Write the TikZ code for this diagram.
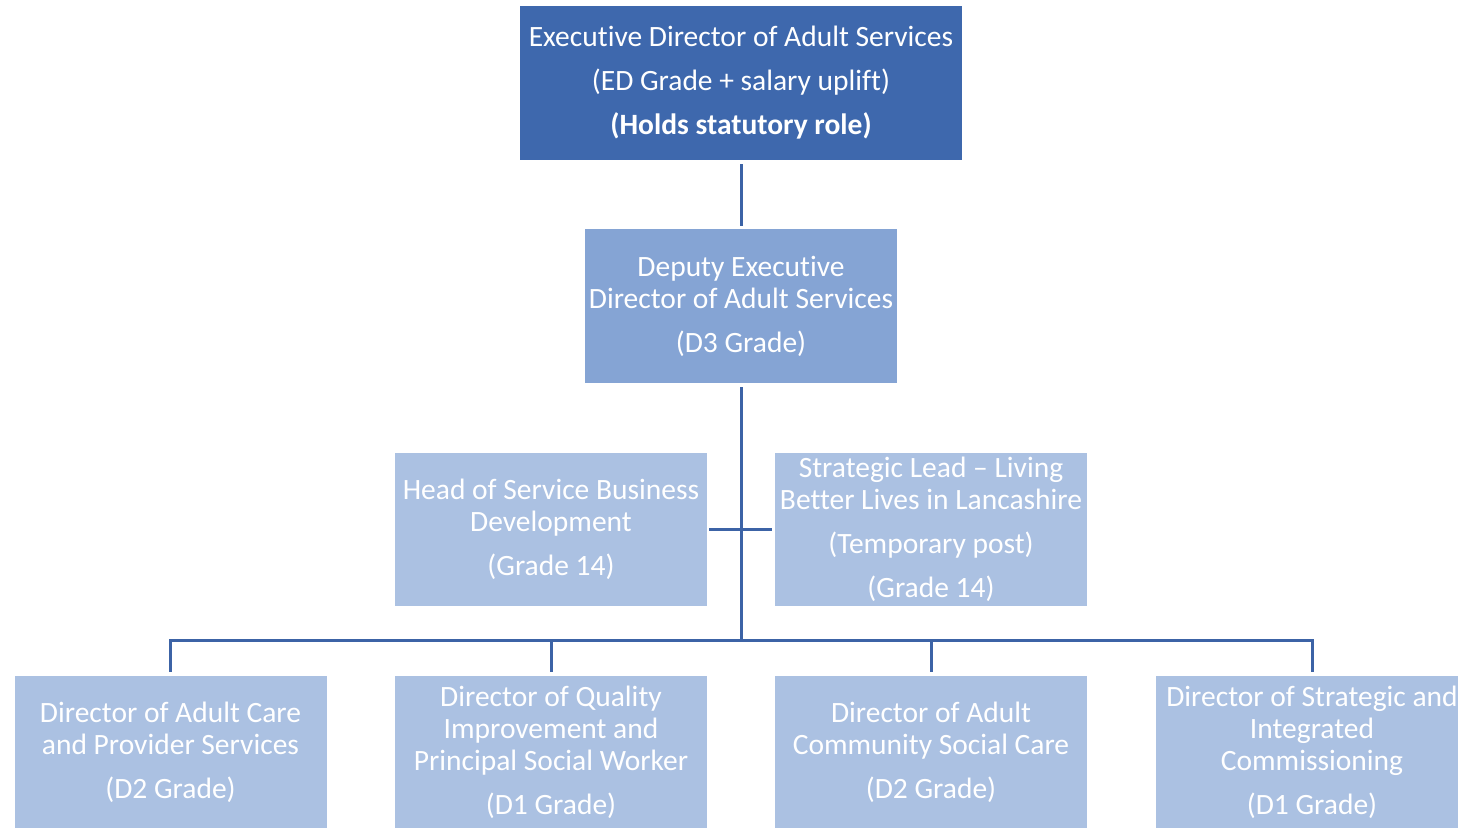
\documentclass[tikz,border=0pt]{standalone}
\usepackage{fontspec}
\setmainfont[Ligatures=NoCommon]{Carlito}
\definecolor{darkpost}{HTML}{3E68AD}
\definecolor{midpost}{HTML}{85A4D4}
\definecolor{lightpost}{HTML}{ABC1E2}
\definecolor{linkblue}{HTML}{3C63A6}
\begin{document}
\begin{tikzpicture}[x=1pt,y=-1pt]
    \tikzset{
        post/.style={rectangle, inner sep=0pt, minimum width=312pt, minimum height=154pt,
            text=white, align=center, font=\fontsize{29.5}{32}\selectfont},
        conn/.style={draw=linkblue, line width=3pt}
    };
    \useasboundingbox (0,0) rectangle (1458,827);
    % top of the chart
    \node[post, fill=darkpost, minimum width=442pt] (ed) at (741,83)
        {Executive Director of Adult Services\\[12pt](ED Grade + salary uplift)\\[12pt]\textbf{(Holds statutory role)}};
    \node[post, fill=midpost] (deputy) at (741,306)
        {Deputy Executive\\Director of Adult Services\\[12pt](D3 Grade)};
    % side posts
    \node[post, fill=lightpost, minimum height=153pt] (headsbd) at (551,529.5)
        {Head of Service Business\\Development\\[12pt](Grade 14)};
    \node[post, fill=lightpost, minimum height=153pt] (stratlead) at (931,529.5)
        {Strategic Lead -- Living\\Better Lives in Lancashire\\[12pt](Temporary post)\\[12pt](Grade 14)};
    % directors
    \node[post, fill=lightpost, minimum height=152pt] (dacps) at (170.5,752)
        {Director of Adult Care\\and Provider Services\\[12pt](D2 Grade)};
    \node[post, fill=lightpost, minimum height=152pt] (dqi) at (551,752)
        {Director of Quality\\Improvement and\\Principal Social Worker\\[12pt](D1 Grade)};
    \node[post, fill=lightpost, minimum height=152pt] (dacsc) at (931,752)
        {Director of Adult\\Community Social Care\\[12pt](D2 Grade)};
    \node[post, fill=lightpost, minimum height=152pt] (dsic) at (1312,752)
        {Director of Strategic and\\Integrated\\Commissioning\\[12pt](D1 Grade)};
    \coordinate (hub) at (741,640);
    \draw[conn, shorten <=4pt, shorten >=3pt] (ed) -- (deputy);
    \draw[conn, shorten <=4pt] (deputy) -- (hub);
    \draw[conn, shorten <=2pt, shorten >=3pt] (headsbd) -- (stratlead);
    \foreach \n in {dacps,dqi,dacsc,dsic}{
        \draw[conn, shorten >=4pt] (hub) -| (\n.north);
    }
\end{tikzpicture}
\end{document}
